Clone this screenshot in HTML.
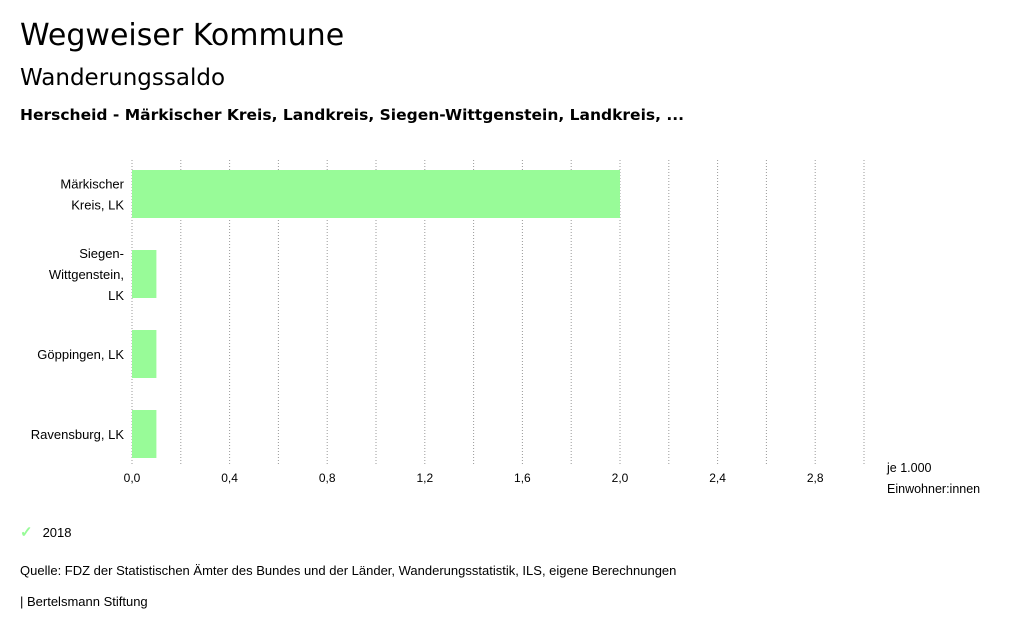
<!DOCTYPE html>
<html><head><meta charset="utf-8"><style>
body{margin:0;background:#fff;width:1024px;height:634px;overflow:hidden;font-family:"Liberation Sans",sans-serif;color:#000}
.t{position:absolute;white-space:nowrap}
.h{font-family:"DejaVu Sans",sans-serif}
</style></head><body>
<div class="t h" style="left:20px;top:18px;font-size:30px">Wegweiser Kommune</div>
<div class="t h" style="left:20px;top:65px;font-size:23px">Wanderungssaldo</div>
<div class="t h" style="left:20px;top:106px;font-size:15.5px;font-weight:bold">Herscheid - Märkischer Kreis, Landkreis, Siegen-Wittgenstein, Landkreis, ...</div>
<svg id="chart" width="1024" height="634" style="position:absolute;left:0;top:0;font-family:'Liberation Sans',sans-serif"></svg>
<div class="t" style="left:20px;top:523px;font-size:13px"><span style="color:#98fb98;font-size:15px;font-weight:bold">✓</span><span style="margin-left:10px">2018</span></div>
<div class="t" style="left:20px;top:563px;font-size:13px">Quelle: FDZ der Statistischen Ämter des Bundes und der Länder, Wanderungsstatistik, ILS, eigene Berechnungen</div>
<div class="t" style="left:20px;top:594px;font-size:13px">| Bertelsmann Stiftung</div>
<script>
const categories=[["Märkischer","Kreis, LK"],["Siegen-","Wittgenstein,","LK"],["Göppingen, LK"],["Ravensburg, LK"]];
const values=[2.0,0.1,0.1,0.1];
const tickValues=[0,0.4,0.8,1.2,1.6,2.0,2.4,2.8];
const tickLabels=["0,0","0,4","0,8","1,2","1,6","2,0","2,4","2,8"];
const gridValues=[0.2,0.4,0.6,0.8,1.0,1.2,1.4,1.6,1.8,2.0,2.2,2.4,2.6,2.8,3.0];
const svg=document.getElementById('chart');const NS='http://www.w3.org/2000/svg';
const x=v=>132+v*244;const bandTop=i=>170+i*80;const bh=48;
function mk(t,a,p){const e=document.createElementNS(NS,t);for(const k in a)e.setAttribute(k,a[k]);(p||svg).appendChild(e);return e;}
gridValues.forEach(v=>{const l=mk('line',{x1:x(v),x2:x(v),y1:160,y2:465,stroke:'#999','stroke-dasharray':'1,2'});

});
const ax=mk('line',{x1:132,x2:132,y1:160,y2:465,stroke:'#999','stroke-dasharray':'1,2'});


values.forEach((v,i)=>{const r=mk('rect',{x:x(0),y:bandTop(i),width:x(v)-x(0),height:bh,fill:'#98fb98'});


const lines=categories[i];const cy=bandTop(i)+bh/2;
lines.forEach((s,j)=>{const t=mk('text',{x:124,y:cy+5+(j-(lines.length-1)/2)*21,'text-anchor':'end','font-size':13});t.textContent=s;

});});
tickValues.forEach((v,i)=>{const t=mk('text',{x:x(v),y:482,'text-anchor':'middle','font-size':12});t.textContent=tickLabels[i];

});
[["je 1.000",472],["Einwohner:innen",493]].forEach(a=>{const t=mk('text',{x:887,y:a[1],'font-size':12.5});t.textContent=a[0];

});
</script>
</body></html>
